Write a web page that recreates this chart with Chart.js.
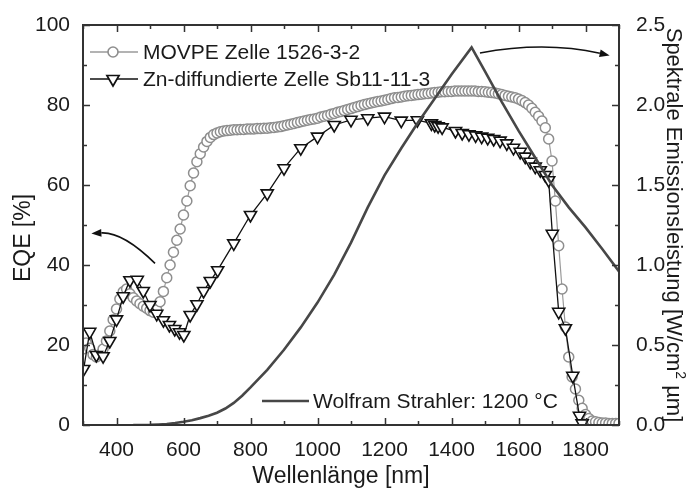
<!DOCTYPE html>
<html><head><meta charset="utf-8">
<script src="https://cdn.jsdelivr.net/npm/chart.js@4.4.0/dist/chart.umd.min.js"></script>
<style>html,body{margin:0;padding:0;background:#fff;}</style>
</head><body>
<canvas id="c" width="691" height="488"></canvas>
<script>
// ---- data ----
const movpeNm = [300,310,320,330,340,350,360,370,380,390,400,410,420,430,440,450,460,470,480,490,500,510,520,530,540,550,560,570,580,590,600,610,620,630,640,650,660,670,680,690,700,710,720,730,740,750,760,770,780,790,800,810,820,830,840,850,860,870,880,890,900,910,920,930,940,950,960,970,980,990,1000,1010,1020,1030,1040,1050,1060,1070,1080,1090,1100,1110,1120,1130,1140,1150,1160,1170,1180,1190,1200,1210,1220,1230,1240,1250,1260,1270,1280,1290,1300,1310,1320,1330,1340,1350,1360,1370,1380,1390,1400,1410,1420,1430,1440,1450,1460,1470,1480,1490,1500,1510,1520,1530,1540,1550,1560,1570,1580,1590,1600,1610,1620,1630,1640,1650,1660,1670,1680,1690,1700,1710,1720,1730,1740,1750,1760,1770,1780,1790,1800,1810,1820,1830,1840,1850,1860,1870,1880,1890,1900];
const movpeEqe = [19.0,20.5,19.2,17.6,17.0,17.6,19.0,21.0,23.5,26.3,29.0,31.5,33.3,34.0,32.8,31.8,31.0,30.3,29.7,29.2,28.6,28.2,28.8,30.8,33.4,36.8,40.0,43.2,46.2,49.0,52.5,56.0,59.8,63.0,65.8,67.8,69.5,70.9,71.9,72.6,73.0,73.3,73.5,73.6,73.7,73.8,73.8,73.9,73.9,74.0,74.0,74.0,74.1,74.1,74.2,74.2,74.3,74.4,74.5,74.6,74.8,75.0,75.2,75.4,75.6,75.8,76.0,76.2,76.4,76.5,76.7,77.0,77.2,77.4,77.7,77.9,78.2,78.4,78.6,78.9,79.1,79.4,79.6,79.9,80.1,80.3,80.5,80.7,80.9,81.0,81.2,81.4,81.6,81.8,81.9,82.0,82.2,82.3,82.4,82.5,82.6,82.7,82.8,82.9,83.0,83.1,83.2,83.3,83.3,83.4,83.4,83.5,83.5,83.5,83.5,83.5,83.5,83.5,83.4,83.4,83.3,83.2,83.1,83.0,82.8,82.6,82.4,82.2,82.0,81.8,81.5,81.1,80.6,80.0,79.2,78.2,77.2,76.0,74.3,71.5,66.0,56.0,44.8,34.0,24.5,17.0,12.0,9.0,6.2,4.2,2.6,1.6,1.0,0.8,0.6,0.5,0.5,0.4,0.4,0.4,0.4];

const znNm  = [302,320,340,360,380,400,420,440,462,480,500,520,540,558,574,588,601,620,640,660,680,702,750,800,850,900,950,1000,1050,1100,1150,1200,1250,1298,1340,1350,1360,1372,1412,1432,1452,1472,1490,1508,1526,1545,1565,1585,1605,1620,1635,1650,1665,1680,1690,1701,1720,1740,1762,1782,1790];
const znEqe  = [14.0,23.3,17.5,17.2,21.0,26.4,32.2,36.2,36.3,33.5,30.0,27.8,26.2,25.0,24.0,23.2,22.5,27.5,30.2,33.5,36.0,38.7,45.4,52.5,57.9,64.2,69.2,72.1,75.0,76.3,76.7,77.1,76.1,76.2,75.4,75.0,74.7,74.4,73.5,73.0,72.7,72.4,72.1,71.8,71.5,71.1,70.4,69.3,68.3,67.1,65.8,64.6,63.7,62.5,61.2,47.8,28.3,24.2,12.3,2.3,0.4];

const wolframNm    = [450,500,525,550,575,600,625,650,675,700,725,750,775,800,850,900,950,1000,1050,1100,1150,1200,1250,1300,1350,1400,1460,1500,1550,1600,1650,1700,1750,1800,1850,1900];
const wolframPower = [0,0.001,0.003,0.006,0.012,0.02,0.03,0.043,0.058,0.077,0.103,0.138,0.183,0.235,0.345,0.47,0.61,0.765,0.94,1.14,1.36,1.56,1.73,1.89,2.04,2.19,2.36,2.21,2.02,1.84,1.67,1.50,1.36,1.235,1.10,0.96];

const xTicks = [400,600,800,1000,1200,1400,1600,1800];
const xMinorTicks = [300,500,700,900,1100,1300,1500,1700,1900];
const yTicks = [0,20,40,60,80,100];
const yMinorTicks = [10,30,50,70,90];
const y2Ticks = [0,0.5,1.0,1.5,2.0,2.5];
const y2MinorTicks = [0.25,0.75,1.25,1.75,2.25];

const seriesLabels = ['MOVPE Zelle 1526-3-2','Zn-diffundierte Zelle Sb11-11-3','Wolfram Strahler: 1200 °C'];
const xTitle = 'Wellenlänge [nm]';
const yTitle = 'EQE [%]';
const y2TitleParts = ['Spektrale Emissionsleistung [W/cm', '2', ' µm]'];

// annotation arrows in data coordinates
const arrowLeft  = {axis:'y',  from:[515,40.4],  ctrl:[419,48.3],  to:[325,47.9]};
const arrowRight = {axis:'y2', from:[1485,2.325], ctrl:[1678,2.40], to:[1872,2.31]};

const FONT = '"Liberation Sans", Arial, Helvetica, sans-serif';
const TXT = '#1a1a1a';
const AX = '#333333';
const GRAY = '#8e8e8e';
const WCOL = '#474747';

const toXY = (xs, ys) => xs.map((x,i)=>({x:x, y:ys[i]}));

function drawArrow(ctx, chart, a){
  const xs = chart.scales.x, ys = chart.scales[a.axis];
  const p0 = {x:xs.getPixelForValue(a.from[0]), y:ys.getPixelForValue(a.from[1])};
  const c  = {x:xs.getPixelForValue(a.ctrl[0]), y:ys.getPixelForValue(a.ctrl[1])};
  const p1 = {x:xs.getPixelForValue(a.to[0]),   y:ys.getPixelForValue(a.to[1])};
  const ang = Math.atan2(p1.y-c.y, p1.x-c.x);
  const head = 10, w = 3.8;
  const bx = p1.x - head*Math.cos(ang), by = p1.y - head*Math.sin(ang);
  ctx.save();
  ctx.strokeStyle = '#111'; ctx.fillStyle = '#111'; ctx.lineWidth = 1.6;
  ctx.beginPath(); ctx.moveTo(p0.x,p0.y); ctx.quadraticCurveTo(c.x,c.y,bx,by); ctx.stroke();
  ctx.beginPath(); ctx.moveTo(p1.x,p1.y);
  ctx.lineTo(bx + w*Math.sin(ang), by - w*Math.cos(ang));
  ctx.lineTo(bx - w*Math.sin(ang), by + w*Math.cos(ang));
  ctx.closePath(); ctx.fill();
  ctx.restore();
}

const decor = {
  id:'decor',
  afterDatasetsDraw(chart){
    const ctx = chart.ctx;
    const {left,right,top,bottom} = chart.chartArea;
    const xs = chart.scales.x, ys = chart.scales.y, y2s = chart.scales.y2;
    ctx.save();
    // frame
    ctx.strokeStyle = AX; ctx.lineWidth = 2;
    ctx.strokeRect(left, top, right-left, bottom-top);
    // ticks (inward)
    ctx.lineWidth = 1.5;
    ctx.beginPath();
    xTicks.forEach(v=>{const p=Math.round(xs.getPixelForValue(v))+0.5; ctx.moveTo(p,bottom); ctx.lineTo(p,bottom-7); ctx.moveTo(p,top); ctx.lineTo(p,top+7);});
    xMinorTicks.forEach(v=>{const p=Math.round(xs.getPixelForValue(v))+0.5; ctx.moveTo(p,bottom); ctx.lineTo(p,bottom-4); ctx.moveTo(p,top); ctx.lineTo(p,top+4);});
    yTicks.forEach(v=>{const p=Math.round(ys.getPixelForValue(v))+0.5; ctx.moveTo(left,p); ctx.lineTo(left+7,p);});
    yMinorTicks.forEach(v=>{const p=Math.round(ys.getPixelForValue(v))+0.5; ctx.moveTo(left,p); ctx.lineTo(left+4,p);});
    y2Ticks.forEach(v=>{const p=Math.round(y2s.getPixelForValue(v))+0.5; ctx.moveTo(right,p); ctx.lineTo(right-7,p);});
    y2MinorTicks.forEach(v=>{const p=Math.round(y2s.getPixelForValue(v))+0.5; ctx.moveTo(right,p); ctx.lineTo(right-4,p);});
    ctx.stroke();

    // arrows
    drawArrow(ctx, chart, arrowLeft);
    drawArrow(ctx, chart, arrowRight);

    // legend
    ctx.font = '21px ' + FONT; ctx.fillStyle = TXT; ctx.textBaseline = 'middle'; ctx.textAlign = 'left';
    const lx0 = left + 7, lx1 = left + 55, lmx = left + 30, ltx = left + 60;
    // row 1
    let ly = top + 27;
    ctx.strokeStyle = '#9a9a9a'; ctx.lineWidth = 1.3;
    ctx.beginPath(); ctx.moveTo(lx0,ly); ctx.lineTo(lx1,ly); ctx.stroke();
    ctx.fillStyle = '#fff'; ctx.strokeStyle = GRAY; ctx.lineWidth = 1.6;
    ctx.beginPath(); ctx.arc(lmx, ly, 5, 0, Math.PI*2); ctx.fill(); ctx.stroke();
    ctx.fillStyle = TXT; ctx.fillText(seriesLabels[0], ltx, ly+1);
    // row 2
    ly = top + 54;
    ctx.strokeStyle = '#111'; ctx.lineWidth = 1.4;
    ctx.beginPath(); ctx.moveTo(lx0,ly); ctx.lineTo(lx1,ly); ctx.stroke();
    ctx.fillStyle = '#fff'; ctx.lineWidth = 1.7;
    const r = 7;
    ctx.beginPath();
    ctx.moveTo(lmx, ly + r);
    ctx.lineTo(lmx - r*Math.sin(Math.PI/3), ly - r*0.5);
    ctx.lineTo(lmx + r*Math.sin(Math.PI/3), ly - r*0.5);
    ctx.closePath(); ctx.fill(); ctx.stroke();
    ctx.fillStyle = TXT; ctx.fillText(seriesLabels[1], ltx, ly+1);
    // row 3 (Wolfram)
    ly = bottom - 24;
    ctx.strokeStyle = WCOL; ctx.lineWidth = 2.6;
    ctx.beginPath(); ctx.moveTo(left+179, ly); ctx.lineTo(left+226, ly); ctx.stroke();
    ctx.fillStyle = TXT; ctx.fillText(seriesLabels[2], left+230, ly+1);

    // axis titles
    ctx.font = '23px ' + FONT; ctx.fillStyle = TXT;
    ctx.textAlign = 'center'; ctx.textBaseline = 'alphabetic';
    ctx.fillText(xTitle, (left+right)/2 - 10, 483);
    ctx.save();
    ctx.translate(24, (top+bottom)/2 + 13);
    ctx.rotate(-Math.PI/2);
    ctx.textBaseline = 'middle';
    ctx.fillText(yTitle, 0, 0);
    ctx.restore();

    // right title with superscript
    ctx.save();
    const big = '22px ' + FONT, small = '14px ' + FONT;
    ctx.font = big; const w0 = ctx.measureText(y2TitleParts[0]).width;
    const w2 = ctx.measureText(y2TitleParts[2]).width;
    ctx.font = small; const w1 = ctx.measureText(y2TitleParts[1]).width;
    const total = w0 + w1 + w2;
    ctx.translate(667, (top+bottom)/2 - total/2);
    ctx.rotate(Math.PI/2);
    ctx.textAlign = 'left'; ctx.textBaseline = 'alphabetic';
    ctx.font = big; ctx.fillText(y2TitleParts[0], 0, 0);
    ctx.font = small; ctx.fillText(y2TitleParts[1], w0, -9);
    ctx.font = big; ctx.fillText(y2TitleParts[2], w0 + w1, 0);
    ctx.restore();

    ctx.restore();
  }
};

const tickFont = {family: FONT, size: 21};

new Chart(document.getElementById('c').getContext('2d'), {
  type: 'line',
  data: { datasets: [
    { label: seriesLabels[2], data: toXY(wolframNm, wolframPower), yAxisID:'y2',
      borderColor: WCOL, borderWidth: 2.6, pointRadius: 0, tension: 0, fill:false, order: 0 },
    { label: seriesLabels[1], data: toXY(znNm, znEqe), yAxisID:'y',
      borderColor:'#111', borderWidth:1.3, pointStyle:'triangle', rotation:180, pointRadius:7,
      pointBackgroundColor:'#fff', pointBorderColor:'#111', pointBorderWidth:1.6, fill:false, order: 1 },
    { label: seriesLabels[0], data: toXY(movpeNm, movpeEqe), yAxisID:'y',
      borderColor:'#9a9a9a', borderWidth:1.2, pointStyle:'circle', pointRadius:5,
      pointBackgroundColor:'#fff', pointBorderColor: GRAY, pointBorderWidth:1.5, fill:false, order: 2 }
  ]},
  options: {
    responsive:false, animation:false, devicePixelRatio:1,
    layout:{padding:{top:25, left:0, right:0, bottom:0}},
    plugins:{legend:{display:false}, tooltip:{enabled:false}},
    scales:{
      x:{ type:'linear', position:'bottom', min:300, max:1900,
        afterBuildTicks(s){ s.ticks = xTicks.map(v=>({value:v})); },
        afterFit(s){ s.height = 63; },
        grid:{display:false}, border:{display:false},
        ticks:{font:tickFont, color:TXT, padding:5, maxRotation:0, autoSkip:false, callback:v=>String(v)} },
      y:{ type:'linear', position:'left', min:0, max:100,
        afterBuildTicks(s){ s.ticks = yTicks.map(v=>({value:v})); },
        afterFit(s){ s.width = 83; },
        grid:{display:false}, border:{display:false},
        ticks:{font:tickFont, color:TXT, padding:5, callback:v=>String(v)} },
      y2:{ type:'linear', position:'right', min:0, max:2.5,
        afterBuildTicks(s){ s.ticks = y2Ticks.map(v=>({value:v})); },
        afterFit(s){ s.width = 72; },
        grid:{display:false, drawOnChartArea:false}, border:{display:false},
        ticks:{font:tickFont, color:TXT, padding:9, callback:v=>Number(v).toFixed(1)} }
    }
  },
  plugins:[decor]
});
</script>
</body></html>
